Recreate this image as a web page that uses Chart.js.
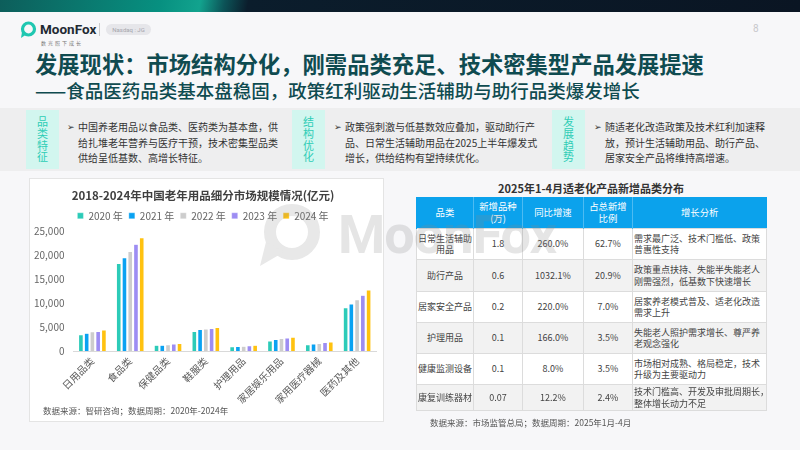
<!DOCTYPE html>
<html>
<head>
    <meta charset="utf-8">
    <title>发展现状</title>
    <script src="https://cdn.jsdelivr.net/npm/chart.js@4.4.0/dist/chart.umd.min.js"></script>
    <style>
        body {
            margin: 0;
            width: 800px;
            height: 450px;
            position: relative;
            overflow: hidden;
            background-color: #f7f7f9;
            font-family: "Noto Sans CJK SC", "Noto Sans", sans-serif;
            color: #333;
        }
        .topbar {
            position: absolute; left: 0; top: 0; width: 800px; height: 12px;
            background: linear-gradient(100deg, #0d5e5b 0%, #079080 20%, #12a38e 25%, #0c5458 28%, #0b1d2c 31%, #0a1523 100%);
        }
        .logo { position: absolute; left: 19px; top: 21px; }
        .logo-text { position: absolute; left: 40px; top: 21px; font-family: Roboto, sans-serif; font-weight: 700; font-size: 13.5px; color: #1f2a33; }
        .logo-sub { position: absolute; left: 41px; top: 39px; font-size: 5px; color: #777; letter-spacing: 2px; }
        .sep { position: absolute; left: 99px; top: 23px; width: 1px; height: 13px; background: #ccc; }
        .pill { position: absolute; left: 106px; top: 24px; width: 45px; height: 11px; border-radius: 6px; background: #e6e6ea; color: #a5a5ad; font-family: Roboto, sans-serif; font-size: 6px; line-height: 11px; text-align: center; }
        .pageno { position: absolute; left: 753px; top: 23px; font-size: 10px; color: #c8c8cc; font-family: Roboto, sans-serif; }
        .title1 { position: absolute; left: 35px; top: 49px; font-size: 22.3px; font-weight: 700; color: #0f4b50; white-space: nowrap; line-height: 28px; }
        .title2 { position: absolute; left: 35px; top: 78px; font-size: 18.5px; font-weight: 500; color: #0f4b50; white-space: nowrap; line-height: 24px; }
        .band { position: absolute; left: 0; top: 108px; width: 800px; height: 63px; background: #eeeeef; }
        .tag {
            position: absolute; top: 110px; width: 33px; height: 59px;
            background: #d2f6ef; color: #2ecdb6; font-size: 11px; line-height: 11.6px;
            display: flex; align-items: center; justify-content: center; text-align: center;
        }
        .btext { position: absolute; top: 119px; font-size: 10px; line-height: 15.5px; color: #333; white-space: nowrap; }
        .btext .arr { position: absolute; left: -11px; top: 0; font-size: 9px; }
        .panel {
            position: absolute; left: 29px; top: 178px; width: 355px; height: 244px;
            background: #ffffff; border: 1px solid #e4e4e4; box-sizing: border-box;
        }
        .chart-box { position: absolute; left: 0; top: 0; width: 353px; height: 228px; }
        .src1 { position: absolute; left: 13px; top: 225px; font-size: 8.5px; color: #555; }
        .tbl-title { position: absolute; left: 416px; top: 180px; width: 350px; text-align: center; font-size: 11px; font-weight: 700; color: #333; }
        table {
            position: absolute; left: 416px; top: 197px; width: 350px;
            border-collapse: collapse; table-layout: fixed; font-size: 9px; color: #444;
        }
        th {
            background: #0ba2ec; color: #fff; font-weight: 400; height: 31px; padding: 0;
            line-height: 11.5px; border-left: 1px solid #4dbbf2; text-align: center; font-size: 9.4px;
            white-space: pre;
        }
        th:first-child { border-left: 1px solid #0ba2ec; }
        td { border: 1px solid #dcdcdc; padding: 0; text-align: center; line-height: 11.5px; white-space: pre; overflow: hidden; }
        td.note { text-align: left; padding-left: 1px; }
        tr:nth-child(even) td { background: #f2f2f2; }
        tr:nth-child(odd) td { background: #ffffff; }
        .src2 { position: absolute; left: 430px; top: 416px; font-size: 8.5px; color: #555; }
        .wm { position: absolute; left: 250px; top: 202px; pointer-events: none; opacity: 0.2; }
        .wm-text { position: absolute; left: 338px; top: 203px; font-family: Roboto, sans-serif; font-weight: 700; font-size: 54px; color: #8a8a8a; opacity: 0.22; pointer-events: none; letter-spacing: -1px; }
    </style>
</head>
<body>
    <div class="topbar"></div>
    <svg class="logo" width="18" height="17" viewBox="0 0 18 17">
        <circle cx="9.5" cy="8" r="6" fill="none" stroke="#1fc7b1" stroke-width="3.2"/>
        <path d="M3 11 L2 17 L8 13 Z" fill="#1fc7b1"/>
    </svg>
    <div class="logo-text">MoonFox</div>
    <div class="logo-sub">数光照下成长</div>
    <div class="sep"></div>
    <div class="pill">Nasdaq : JG</div>
    <div class="pageno">8</div>

    <div class="title1">发展现状：市场结构分化，刚需品类充足、技术密集型产品发展提速</div>
    <div class="title2">——食品医药品类基本盘稳固，政策红利驱动生活辅助与助行品类爆发增长</div>

    <div class="band"></div>
    <div class="tag" style="left:26px;">品<br>类<br>特<br>征</div>
    <div class="btext" style="left:78px;"><span class="arr">➢</span>中国养老用品以食品类、医药类为基本盘，供<br>给扎堆老年营养与医疗干预，技术密集型品类<br>供给呈低基数、高增长特征。</div>
    <div class="tag" style="left:292px;">结<br>构<br>优<br>化</div>
    <div class="btext" style="left:345px;"><span class="arr">➢</span>政策强刺激与低基数效应叠加，驱动助行产<br>品、日常生活辅助用品在2025上半年爆发式<br>增长，供给结构有望持续优化。</div>
    <div class="tag" style="left:552px;">发<br>展<br>趋<br>势</div>
    <div class="btext" style="left:605px;"><span class="arr">➢</span>随适老化改造政策及技术红利加速释<br>放，预计生活辅助用品、助行产品、<br>居家安全产品将维持高增速。</div>

    <div class="panel">
        <div class="chart-box"><canvas id="marketChart"></canvas></div>
        <div class="src1">数据来源：智研咨询；数据周期：2020年-2024年</div>
    </div>

    <div class="tbl-title">2025年1-4月适老化产品新增品类分布</div>
    <table id="newTable">
        <colgroup>
            <col style="width:57px"><col style="width:49px"><col style="width:61px"><col style="width:49px"><col style="width:134px">
        </colgroup>
        <thead><tr id="headRow"></tr></thead>
        <tbody id="tableBody"></tbody>
    </table>
    <div class="src2">数据来源：市场监管总局；数据周期：2025年1月-4月</div>

    <svg class="wm" width="80" height="72" viewBox="0 0 80 72">
        <circle cx="42" cy="30" r="22" fill="none" stroke="#8a8a8a" stroke-width="12"/>
        <path d="M16 40 L10 64 L34 50 Z" fill="#8a8a8a"/>
    </svg>
    <div class="wm-text">MoonFox</div>

    <script>
        // 柱状图数据（亿元）
        const categories = ['日用品类', '食品类', '保健品类', '鞋服类', '护理用品', '家居娱乐用品', '家用医疗器械', '医药及其他'];
        const years = ['2020 年', '2021 年', '2022 年', '2023 年', '2024 年'];
        const v2020 = [3400, 18200, 1200, 4100, 900, 2100, 1300, 9000];
        const v2021 = [3700, 19400, 1200, 4500, 950, 2400, 1500, 9800];
        const v2022 = [4000, 20700, 1300, 4600, 1000, 2600, 1600, 10700];
        const v2023 = [4100, 22200, 1500, 4700, 1100, 2700, 1800, 11600];
        const v2024 = [4400, 23600, 1600, 4900, 1200, 2900, 1900, 12700];
        const yTicks = [0, 5000, 10000, 15000, 20000, 25000];

        // 表格数据
        const tblHead = ['品类', '新增品种\n(万)', '同比增速', '占总新增\n比例', '增长分析'];
        const tblCats = ['日常生活辅助\n用品', '助行产品', '居家安全产品', '护理用品', '健康监测设备', '康复训练器材'];
        const tblNew = ['1.8', '0.6', '0.2', '0.1', '0.1', '0.07'];
        const tblYoy = ['260.0%', '1032.1%', '220.0%', '166.0%', '8.0%', '12.2%'];
        const tblShare = ['62.7%', '20.9%', '7.0%', '3.5%', '3.5%', '2.4%'];
        const tblNote = [
            '需求最广泛、技术门槛低、政策\n普惠性支持',
            '政策重点扶持、失能半失能老人\n刚需强烈，低基数下快速增长',
            '居家养老模式普及、适老化改造\n需求上升',
            '失能老人照护需求增长、尊严养\n老观念强化',
            '市场相对成熟、格局稳定，技术\n升级为主要驱动力',
            '技术门槛高、开发及审批周期长，\n整体增长动力不足'
        ];
        const rowHeights = [31, 32, 31, 31, 31, 26];

        function populateTable() {
            const head = document.getElementById('headRow');
            tblHead.forEach(h => {
                const th = document.createElement('th');
                th.textContent = h;
                head.appendChild(th);
            });
            const tbody = document.getElementById('tableBody');
            tblCats.forEach((c, i) => {
                const row = document.createElement('tr');
                row.style.height = rowHeights[i] + 'px';
                [c, tblNew[i], tblYoy[i], tblShare[i], tblNote[i]].forEach((v, j) => {
                    const td = document.createElement('td');
                    td.textContent = v;
                    if (j === 4) td.className = 'note';
                    row.appendChild(td);
                });
                tbody.appendChild(row);
            });
        }

        function createChart() {
            const colors = ['#2ccbb8', '#0aa2f2', '#cdcdcd', '#9d8df3', '#ffc210'];
            const series = [v2020, v2021, v2022, v2023, v2024];
            const font = "'Noto Sans CJK SC', 'Noto Sans', sans-serif";
            const ctx = document.getElementById('marketChart').getContext('2d');
            new Chart(ctx, {
                type: 'bar',
                data: {
                    labels: categories,
                    datasets: series.map((s, i) => ({
                        label: years[i],
                        data: s,
                        backgroundColor: colors[i],
                        borderColor: 'rgba(255,255,255,0.5)',
                        borderWidth: 0.6,
                        categoryPercentage: 0.76,
                        barPercentage: 0.84
                    }))
                },
                options: {
                    responsive: true,
                    maintainAspectRatio: false,
                    animation: false,
                    layout: { padding: { left: 0, right: 7, top: 0, bottom: 0 } },
                    plugins: {
                        title: {
                            display: true,
                            text: '2018-2024年中国老年用品细分市场规模情况(亿元)',
                            color: '#404040',
                            font: { family: font, size: 11.5, weight: 'bold' },
                            padding: { top: 10, bottom: 2 }
                        },
                        legend: {
                            position: 'top',
                            labels: {
                                boxWidth: 6,
                                boxHeight: 6,
                                padding: 6,
                                color: '#666',
                                font: { family: font, size: 10 }
                            }
                        },
                        tooltip: { enabled: false }
                    },
                    scales: {
                        x: {
                            grid: { display: false, drawTicks: false },
                            border: { display: true, color: '#d9d9d9', width: 1 },
                            ticks: {
                                color: '#595959',
                                font: { family: font, size: 10 },
                                minRotation: 45,
                                maxRotation: 45,
                                padding: 4,
                                autoSkip: false
                            },
                            afterFit: scale => { scale.height = 56; }
                        },
                        y: {
                            min: 0,
                            max: 25000,
                            afterBuildTicks: scale => { scale.ticks = yTicks.map(v => ({ value: v })); },
                            grid: { display: false, drawTicks: false },
                            border: { display: false },
                            ticks: {
                                color: '#666',
                                font: { family: font, size: 10 },
                                padding: 9
                            },
                            afterFit: scale => { scale.width = 43.5; }
                        }
                    }
                }
            });
        }

        populateTable();
        createChart();
    </script>
</body>
</html>
